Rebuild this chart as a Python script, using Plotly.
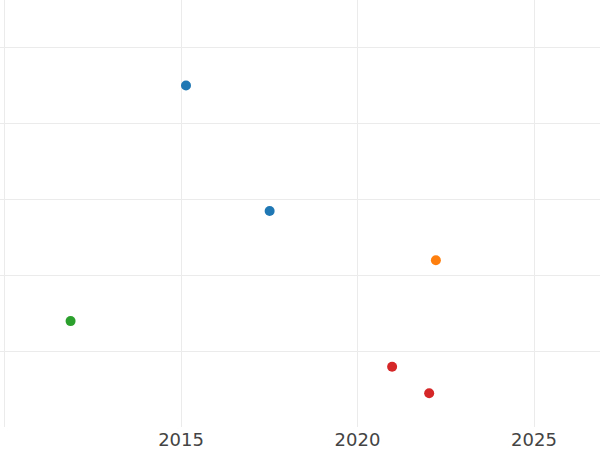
import plotly.graph_objects as go

groups = ["A", "A", "B", "C", "D", "D"]
years = [2015.14, 2017.51, 2022.22, 2011.87, 2020.98, 2022.03]
values = [45.0, 28.5, 22.0, 14.0, 8.0, 4.5]
group_order = ["A", "B", "C", "D"]
colors = {"A": "#1f77b4", "B": "#ff7f0e", "C": "#2ca02c", "D": "#d62728"}

x_ticks = [2010, 2015, 2020, 2025]
y_ticks = [10, 20, 30, 40, 50]

fig = go.Figure()
for g in group_order:
    xs = [x for x, gg in zip(years, groups) if gg == g]
    ys = [y for y, gg in zip(values, groups) if gg == g]
    fig.add_trace(go.Scatter(x=xs, y=ys, mode="markers", name=g,
                             marker=dict(color=colors[g], size=10)))

fig.update_layout(
    width=600, height=450,
    margin=dict(l=0, r=0, t=0, b=23, autoexpand=False),
    paper_bgcolor="white", plot_bgcolor="white",
    showlegend=False,
    font=dict(family="DejaVu Sans", size=18, color="#444444"),
)
fig.update_xaxes(range=[2009.87, 2026.87], tickvals=x_ticks,
                 showgrid=True, gridcolor="#ebebeb", gridwidth=1,
                 zeroline=False, showline=False, ticks="", automargin=False)
fig.update_yaxes(range=[0.07, 56.25], tickvals=y_ticks, showticklabels=False,
                 showgrid=True, gridcolor="#ebebeb", gridwidth=1,
                 zeroline=False, showline=False, ticks="", automargin=False)

fig.write_html("out.html",
               config={"displayModeBar": False},
               post_script="document.body.style.margin='0';")
